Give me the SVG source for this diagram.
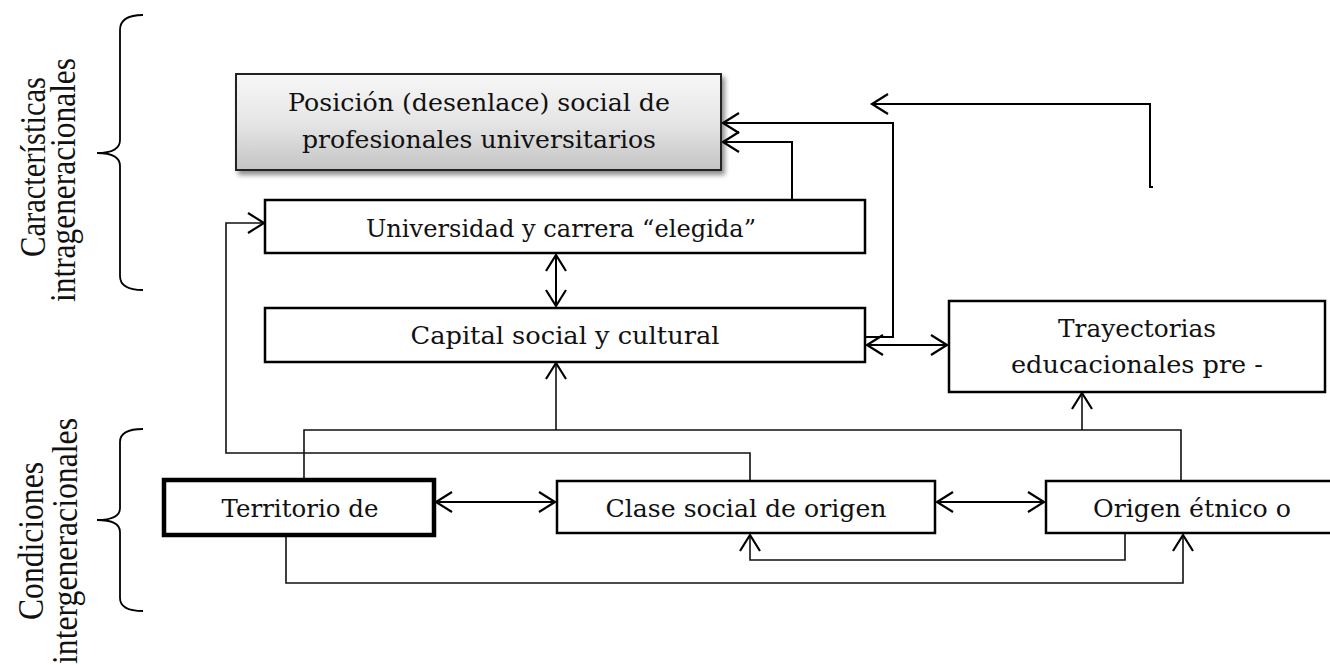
<svg xmlns="http://www.w3.org/2000/svg" width="1330" height="665" viewBox="0 0 1330 665">
<defs>
<linearGradient id="grayGrad" x1="0" y1="0" x2="0" y2="1">
<stop offset="0" stop-color="#f7f7f7"/>
<stop offset="0.5" stop-color="#e6e6e6"/>
<stop offset="1" stop-color="#c4c4c4"/>
</linearGradient>
<filter id="shadow" x="-10%" y="-20%" width="130%" height="150%">
<feGaussianBlur in="SourceAlpha" stdDeviation="2.5"/>
<feOffset dx="3" dy="4" result="b"/>
<feComponentTransfer><feFuncA type="linear" slope="0.45"/></feComponentTransfer>
<feMerge><feMergeNode/><feMergeNode in="SourceGraphic"/></feMerge>
</filter>
<marker id="arr" markerUnits="userSpaceOnUse" markerWidth="20" markerHeight="24" refX="17" refY="11" orient="auto-start-reverse" viewBox="0 0 20 24">
<path d="M1,1 L17,11 L1,21" fill="none" stroke="#000" stroke-width="2.2"/>
</marker>
<style>
.box{fill:#fff;stroke:#000;stroke-width:2.5}
.lbl{font-family:"DejaVu Serif","Liberation Serif",serif;font-size:25px;fill:#111;text-anchor:middle}
.side{font-family:"Liberation Serif","Times New Roman",serif;font-size:36px;fill:#111;text-anchor:middle}
.con{fill:none;stroke:#000;stroke-width:2}
.thin{fill:none;stroke:#111;stroke-width:1.6}
.brace{fill:none;stroke:#000;stroke-width:1.8}
</style>
</defs>
<rect width="1330" height="665" fill="#fff"/>

<g id="brackets">
<path class="brace" d="M143,15 Q120,15 120,30 L120,140 Q120,153 97,153 Q120,153 120,166 L120,276 Q120,290 143,290"/>
<path class="brace" d="M143,429 Q120,429 120,442 L120,508 Q120,520 97,520 Q120,520 120,532 L120,598 Q120,611 143,611"/>
<text class="side" transform="translate(45,167) rotate(-90)" textLength="180" lengthAdjust="spacingAndGlyphs">Características</text>
<text class="side" transform="translate(75,180) rotate(-90)" textLength="244" lengthAdjust="spacingAndGlyphs">intrageneracionales</text>
<text class="side" transform="translate(43,541) rotate(-90)" textLength="158" lengthAdjust="spacingAndGlyphs">Condiciones</text>
<text class="side" transform="translate(77,541) rotate(-90)" textLength="246" lengthAdjust="spacingAndGlyphs">intergeneracionales</text>
</g>

<g id="connectors">
<line class="con" x1="436" y1="502" x2="555" y2="502" marker-start="url(#arr)" marker-end="url(#arr)"/>
<line class="con" x1="937" y1="502" x2="1044" y2="502" marker-start="url(#arr)" marker-end="url(#arr)"/>
<line class="con" x1="556" y1="255" x2="556" y2="306" marker-start="url(#arr)" marker-end="url(#arr)"/>
<line class="con" x1="867" y1="345" x2="947" y2="345" marker-start="url(#arr)" marker-end="url(#arr)"/>
<polyline class="con" points="792,200 792,142 723,142" marker-end="url(#arr)"/>
<polyline class="con" points="866,337 893,337 893,123 723,123" marker-end="url(#arr)"/>
<polyline class="con" points="1153,187 1150,187 1150,104 872,104" marker-end="url(#arr)"/>
<polyline class="thin" points="304,479 304,430 1181,430 1181,481"/>
<line class="thin" x1="556" y1="430" x2="556" y2="363" marker-end="url(#arr)"/>
<line class="thin" x1="1082" y1="430" x2="1082" y2="393" marker-end="url(#arr)"/>
<polyline class="thin" points="750,481 750,453 226,453 226,223 264,223" marker-end="url(#arr)"/>
<polyline class="thin" points="286,536 286,583 1183,583 1183,535" marker-end="url(#arr)"/>
<polyline class="thin" points="1125,533 1125,560 750,560 750,535" marker-end="url(#arr)"/>
</g>

<g id="posicion">
<rect x="236" y="74" width="485" height="96" fill="url(#grayGrad)" stroke="#222" stroke-width="2" filter="url(#shadow)"/>
<text class="lbl" x="479" y="111" textLength="382" lengthAdjust="spacingAndGlyphs">Posición (desenlace) social de</text>
<text class="lbl" x="479" y="148" textLength="354" lengthAdjust="spacingAndGlyphs">profesionales universitarios</text>
</g>
<g id="universidad">
<rect class="box" x="265" y="200" width="600" height="53"/>
<text class="lbl" x="561" y="237" textLength="390" lengthAdjust="spacingAndGlyphs">Universidad y carrera “elegida”</text>
</g>
<g id="capital">
<rect class="box" x="265" y="308" width="600" height="54"/>
<text class="lbl" x="565" y="344" textLength="309" lengthAdjust="spacingAndGlyphs">Capital social y cultural</text>
</g>
<g id="trayectorias">
<rect class="box" x="949" y="301" width="376" height="91"/>
<text class="lbl" x="1137" y="337" textLength="158" lengthAdjust="spacingAndGlyphs">Trayectorias</text>
<text class="lbl" x="1137" y="373" textLength="252" lengthAdjust="spacingAndGlyphs">educacionales pre -</text>
</g>
<g id="territorio">
<rect x="164" y="480" width="270" height="55" fill="#fff" stroke="#000" stroke-width="4.5"/>
<text class="lbl" x="300" y="517" textLength="157" lengthAdjust="spacingAndGlyphs">Territorio de</text>
</g>
<g id="clase">
<rect class="box" x="557" y="481" width="378" height="52"/>
<text class="lbl" x="746" y="517" textLength="281" lengthAdjust="spacingAndGlyphs">Clase social de origen</text>
</g>
<g id="origen">
<rect class="box" x="1046" y="481" width="300" height="52"/>
<text class="lbl" x="1192" y="517" textLength="198" lengthAdjust="spacingAndGlyphs">Origen étnico o</text>
</g>
</svg>
